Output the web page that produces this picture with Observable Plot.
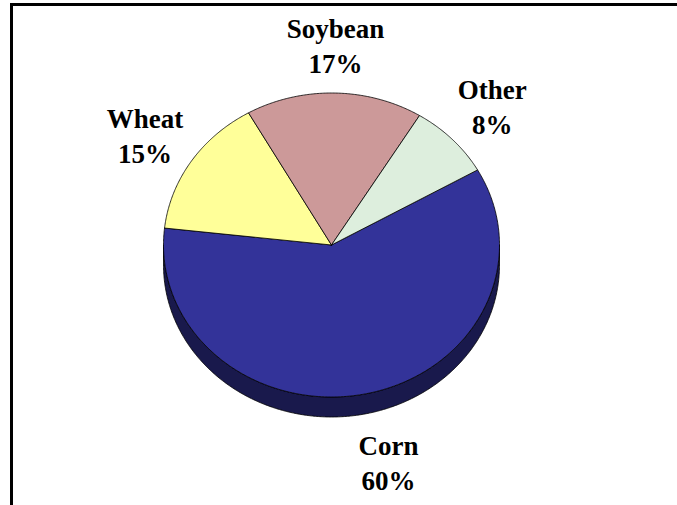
<!DOCTYPE html>
<html>
<head>
<meta charset="utf-8">
<script src="https://cdn.jsdelivr.net/npm/d3@7"></script>
<script src="https://cdn.jsdelivr.net/npm/@observablehq/plot@0.6"></script>
<style>
  body { margin: 0; background: #fff; }
  #wrap { position: relative; width: 677px; height: 505px; overflow: hidden; }
  #chart { position: absolute; left: 0; top: 0; }
  #chart svg text { font-family: "Liberation Serif", "Times New Roman", serif !important; }
  #frame { position: absolute; left: 10px; top: 3px; width: 800px; height: 800px; border: 3px solid #000; }
</style>
</head>
<body>
<div id="wrap"><div id="chart"></div><div id="frame"></div></div>
<script>
// datos del grafico
const crops = ['Corn', 'Wheat', 'Soybean', 'Other']
const shares = [60, 15, 17, 8]
const colors = ['#333399', '#FFFF99', '#CC9999', '#DDEEDD']

// elipse de la torta (pie inclinado)
const cx = 331, cy = 244.5, rx = 168, ry = 152, depth = 20
const start = 60.4 * Math.PI / 180
const step = Math.PI / 360

const pt = (a, dy = 0) => ({x: cx + rx * Math.sin(a), y: cy - ry * Math.cos(a) + dy})

const arcs = d3.pie().sort(null).startAngle(start).endAngle(start + 2 * Math.PI)(shares)

// caras superiores
let faces = []
arcs.forEach((a, i) => {
  const pts = [{x: cx, y: cy}]
  for (let t = a.startAngle; t < a.endAngle; t += step) pts.push(pt(t))
  pts.push(pt(a.endAngle), {x: cx, y: cy})
  pts.forEach(p => faces.push({...p, key: i, color: colors[i]}))
})

// lateral visible (mitad de adelante)
let side = []
arcs.forEach((a, i) => {
  [Math.PI / 2, Math.PI / 2 + 2 * Math.PI].forEach((lo0, j) => {
    const lo = Math.max(a.startAngle, lo0), hi = Math.min(a.endAngle, lo0 + Math.PI)
    if (hi <= lo) return
    const pts = []
    for (let t = lo; t < hi; t += step) pts.push(pt(t))
    pts.push(pt(hi), pt(hi, depth))
    for (let t = hi; t > lo; t -= step) pts.push(pt(t, depth))
    pts.push(pt(lo, depth), pt(lo))
    const c = d3.color(colors[i]).darker(1.95).formatHex()
    pts.forEach(p => side.push({...p, key: i + '-' + j, color: c}))
  })
})

// etiquetas (las de abajo se corren por el espesor)
const labels = arcs.map((a, i) => {
  const m = (a.startAngle + a.endAngle) / 2
  const p = {x: cx + 1.33 * rx * Math.sin(m), y: cy - 1.32 * ry * Math.cos(m)}
  if (Math.cos(m) < 0) { p.y += depth; p.x += 12 }
  return {...p, text: crops[i] + '\n' + shares[i] + '%'}
})

const chart = Plot.plot({
  width: 677,
  height: 505,
  margin: 0,
  x: {domain: [0, 677], range: [0, 677], axis: null},
  y: {domain: [0, 505], range: [0, 505], axis: null},
  color: {type: 'identity'},
  style: {background: 'transparent', overflow: 'visible'},
  marks: [
    Plot.line(side, {x: 'x', y: 'y', z: 'key', fill: 'color', stroke: 'black', strokeWidth: 0.8, curve: 'linear'}),
    Plot.line(faces, {x: 'x', y: 'y', z: 'key', fill: 'color', stroke: 'black', strokeWidth: 0.8, curve: 'linear'}),
    Plot.text(labels, {
      x: 'x', y: 'y', text: 'text',
      fontSize: 27, fontWeight: 'bold', fontFamily: 'Liberation Serif',
      lineHeight: 1.3, fill: 'black'
    })
  ]
})

d3.select('#chart').append(() => chart)
</script>
</body>
</html>
